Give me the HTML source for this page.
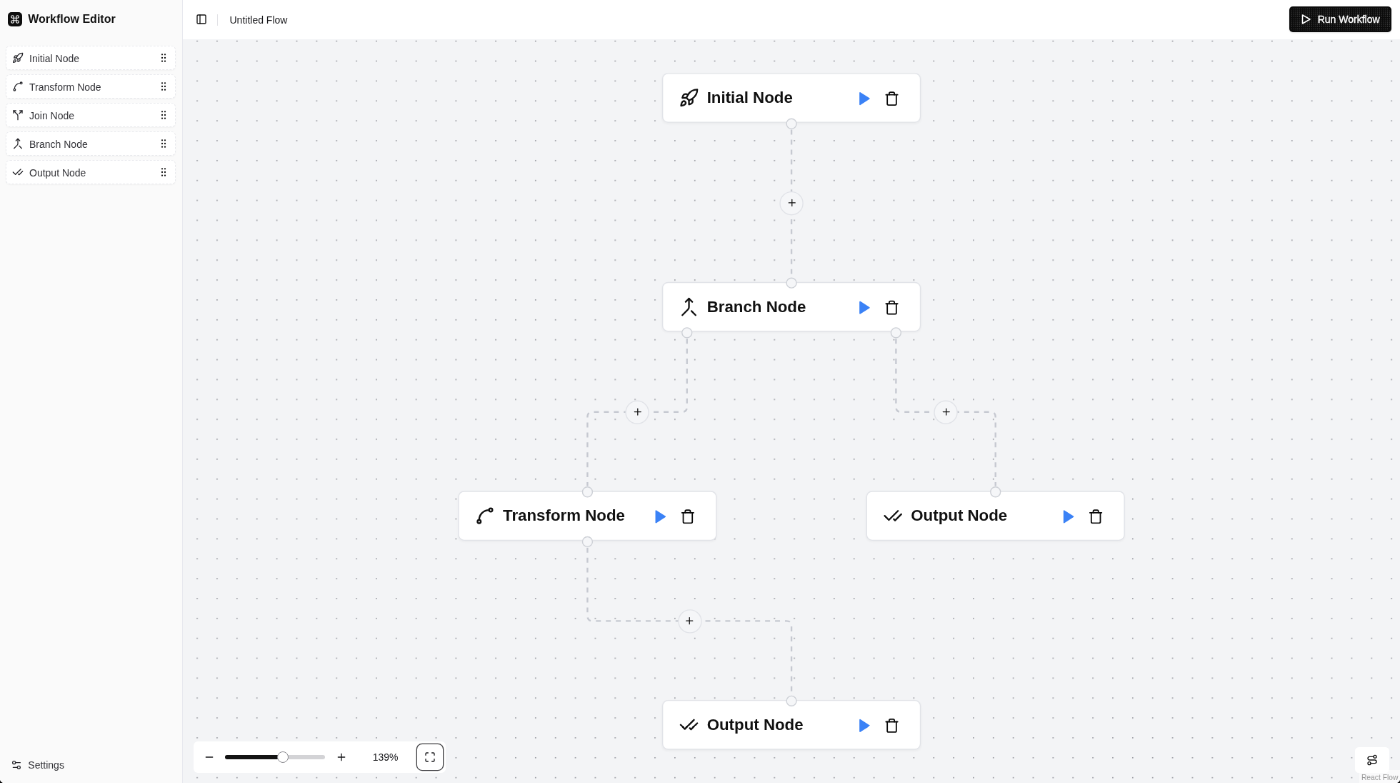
<!DOCTYPE html>
<html lang="en">
<head>
<meta charset="utf-8">
<title>Workflow Editor</title>
<style>
  html, body { margin: 0; padding: 0; }
  body { width: 1400px; height: 783px; overflow: hidden; background: #f3f4f6;
         font-family: "Liberation Sans", Arial, Helvetica, sans-serif; color: #0a0a0a; }
  * { box-sizing: border-box; }
  svg { display: block; }
  .ic { fill: none; stroke: currentColor; stroke-width: 2; stroke-linecap: round; stroke-linejoin: round; }

  /* whole app is authored at 1960x1097 and scaled by 5/7 */
  #app { position: absolute; left: 0; top: 0; width: 1960px; height: 1097px;
         transform: scale(0.7142857); transform-origin: 0 0; will-change: transform; }

  /* ---------- sidebar ---------- */
  #sidebar { position: absolute; left: 0; top: 0; width: 256px; height: 1097px;
             background: #fafafa; border-right: 1px solid #e7e8ee; color: #3f3f46; }
  #brand { position: absolute; left: 10.7px; top: 17px; height: 20px; display: flex; align-items: center; }
  #brand .logo { width: 20px; height: 20px; border-radius: 5px; background: #0d0d0d; color: #fff;
                 display: flex; align-items: center; justify-content: center; }
  #brand .name { margin-left: 8.6px; font-size: 16px; font-weight: 700; color: #111; line-height: 20px; position: relative; top: 0px; white-space: nowrap; }
  .sitem { position: absolute; left: 8px; width: 237.5px; height: 34px; background: #fff;
           border: 1px dashed #e8e9ed; border-radius: 6px; box-shadow: 0 1px 2px rgba(0,0,0,.04);
           display: flex; align-items: center; padding: 0 8px; font-size: 14px; color: #333338; white-space: nowrap; }
  .sitem span { position: relative; top: 0.8px; }
  .sitem .lead { width: 16px; height: 16px; margin-right: 8px; color: #26262b; }
  .sitem .grip { width: 16px; height: 16px; margin-left: auto; color: #111; }
  #settings { position: absolute; left: 14.8px; top: 1063px; height: 16px; display: flex; align-items: center;
              font-size: 14px; color: #333338; white-space: nowrap; }
  #settings svg { margin-right: 8.5px; color: #2a2a30; }

  /* ---------- header ---------- */
  #header { position: absolute; left: 256px; top: 0; width: 1704px; height: 55px; background: #fff; }
  #toggle { position: absolute; left: 18px; top: 19.4px; width: 16px; height: 16px; color: #111; }
  #sep { position: absolute; left: 48px; top: 19.5px; width: 1px; height: 16px; background: #e2e2e6; }
  #title { position: absolute; left: 65.5px; top: 17.6px; font-size: 14px; line-height: 20px; color: #18181b; white-space: nowrap; }
  #run { position: absolute; left: 1548.7px; top: 9.3px; width: 143px; height: 36px; border-radius: 5px;
         background-color: #0c0c0c; color: #fff; font-size: 14px; font-weight: 500;
         display: flex; align-items: center; padding: 0 16px; white-space: nowrap;
         box-shadow: 0 1px 2px rgba(0,0,0,.15); overflow: hidden; }
  #run::before { content: ""; position: absolute; left: 2px; top: 2px; right: 2px; bottom: 2px; border-radius: 5px;
         background-image: radial-gradient(rgba(255,255,255,.34) 0.6px, transparent 0.9px); background-size: 2.8px 2.8px; }
  #run svg { margin-left: -2px; margin-right: 8px; position: relative; }
  #run span { position: relative; -webkit-text-stroke: 0.35px #fff; }

  /* ---------- canvas ---------- */
  #canvas { position: absolute; left: 256px; top: 55px; width: 1704px; height: 1042px; background: #f3f4f6; overflow: hidden; }
  #bgdots { position: absolute; left: 0; top: 0; }
  #viewport { position: absolute; left: 0; top: 0; width: 0; height: 0;
              transform: translate(670.94px, 47.15px) scale(1.39335); transform-origin: 0 0; }
  #edges { position: absolute; left: 0; top: 0; overflow: visible; }
  #edges path { fill: none; stroke: #c6c9d1; stroke-width: 1.7; stroke-dasharray: 5 5; }
  .node { position: absolute; width: 260px; height: 50px; background: #fff; border: 1px solid #e1e3e8; border-radius: 6px;
          display: flex; align-items: center; padding: 0 16px; box-shadow: 0 1px 2px rgba(0,0,0,.03); }
  .node .nic { width: 20px; height: 20px; color: #111; margin-right: 8px; flex: none; }
  .node .ttl { font-size: 16px; font-weight: 700; color: #111; white-space: nowrap; line-height: 24px; }
  .node .acts { margin-left: auto; display: flex; gap: 4px; }
  .node .btn { width: 24px; height: 24px; display: flex; align-items: center; justify-content: center; }
  .node .btn svg { width: 15.6px; height: 15.6px; position: relative; top: 0.35px; }
  .node .play { color: #3b82f6; }
  .node .play svg { fill: currentColor; }
  .handle { position: absolute; width: 11px; height: 11px; border-radius: 50%; background: #f5f6f8; border: 1px solid #cdd0d6;
            transform: translate(-50%, -50%); }
  .plus { position: absolute; width: 24px; height: 24px; border-radius: 50%; background: #f5f6f8; border: 1px solid #e1e3e8;
          transform: translate(-50%, -50%); display: flex; align-items: center; justify-content: center; color: #111; }

  /* ---------- panels ---------- */
  #zoomctl { position: absolute; left: 15px; top: 983.3px; width: 353.2px; height: 44px; background: #fff; border-radius: 6px;
             display: flex; align-items: center; padding: 4px; gap: 4px; color: #18181b; }
  #zoomctl .b { width: 36px; height: 36px; display: flex; align-items: center; justify-content: center; flex: none; }
  #slider { position: relative; width: 140.6px; height: 16px; flex: none; }
  #slider .track { position: absolute; left: 0; top: 5px; width: 140px; height: 6px; border-radius: 3px; background: #d3d3d6; }
  #slider .range { position: absolute; left: 0; top: 5px; width: 82px; height: 6px; border-radius: 3px 0 0 3px; background: #131313; }
  #slider .thumb { position: absolute; left: 73.3px; top: 0; width: 16px; height: 16px; border-radius: 50%; background: #fff; border: 1px solid #8b8b90; }
  #pct { width: 80px; height: 36px; line-height: 36px; text-align: center; font-size: 14px; flex: none; }
  #fit { margin-left: 0.6px; width: 36px; height: 36px; border-radius: 7px; box-shadow: 0 0 0 1.3px #3a3a3d; display: flex; align-items: center; justify-content: center; flex: none; }
  #route { position: absolute; left: 1641px; top: 991px; width: 48px; height: 36px; border-radius: 5.5px; background: #fff;
           display: flex; align-items: center; justify-content: center; color: #111; }
  #attr { position: absolute; right: 0; bottom: 0; background: rgba(255,255,255,.55); padding: 4.6px 2.6px 3px 3px; font-size: 10.3px; line-height: 11px; color: #999; }
  .corner { position: absolute; top: 1091.2px; width: 5px; height: 5px; }
  #cbl { left: 0; background: radial-gradient(circle at 100% 0%, transparent 4.6px, #0a0a0a 5.3px); }
  #cbr { left: 1955px; background: radial-gradient(circle at 0% 0%, transparent 4.6px, #0a0a0a 5.3px); }
</style>
</head>
<body>
<div id="app">

  <div id="canvas">
    <svg id="bgdots" width="1704" height="1042">
      <defs>
        <pattern id="dots" x="19.2" y="1.75" width="27.867" height="27.867" patternUnits="userSpaceOnUse">
          <circle cx="0.9" cy="0.9" r="0.79" fill="#74767f"/>
        </pattern>
      </defs>
      <rect width="1704" height="1042" fill="url(#dots)"/>
    </svg>

    <div id="viewport">
      <svg id="edges" width="10" height="10">
        <path d="M130 57V205"/>
        <path d="M25 267V335.6Q25 340.6 20 340.6H-70Q-75 340.6 -75 345.6V415"/>
        <path d="M235 267V335.6Q235 340.6 240 340.6H330Q335 340.6 335 345.6V415"/>
        <path d="M-75 477V545.6Q-75 550.6 -70 550.6H125Q130 550.6 130 555.6V625"/>
      </svg>
      <div class="node" style="left:0px;top:0px">
        <svg class="ic nic" viewBox="0 0 24 24"><path d="M4.5 16.5c-1.5 1.26-2 5-2 5s3.74-.5 5-2c.71-.84.7-2.13-.09-2.91a2.18 2.18 0 0 0-2.91-.09z"/><path d="m12 15-3-3a22 22 0 0 1 2-3.950A12.880 12.880 0 0 1 22 2c0 2.720-.780 7.500-6 11a22.350 22.350 0 0 1-4 2z"/><path d="M9 12H4s.55-3.030 2-4c1.620-1.080 5 0 5 0"/><path d="M12 15v5s3.030-.55 4-2c1.080-1.620 0-5 0-5"/></svg>
        <div class="ttl">Initial Node</div>
        <div class="acts"><div class="btn play"><svg class="ic" width="16" height="16" viewBox="0 0 24 24"><polygon points="6 3 20 12 6 21 6 3"/></svg></div><div class="btn"><svg class="ic" width="16" height="16" viewBox="0 0 24 24"><path d="M3 6h18"/><path d="M19 6v14c0 1-1 2-2 2H7c-1 0-2-1-2-2V6"/><path d="M8 6V4c0-1 1-2 2-2h4c1 0 2 1 2 2v2"/></svg></div></div>
      </div>
      <div class="node" style="left:0px;top:210px">
        <svg class="ic nic" viewBox="0 0 24 24"><path d="m8 6 4-4 4 4"/><path d="M12 2v10.300a4 4 0 0 1-1.172 2.872L4 22"/><path d="m20 22-5-5"/></svg>
        <div class="ttl">Branch Node</div>
        <div class="acts"><div class="btn play"><svg class="ic" width="16" height="16" viewBox="0 0 24 24"><polygon points="6 3 20 12 6 21 6 3"/></svg></div><div class="btn"><svg class="ic" width="16" height="16" viewBox="0 0 24 24"><path d="M3 6h18"/><path d="M19 6v14c0 1-1 2-2 2H7c-1 0-2-1-2-2V6"/><path d="M8 6V4c0-1 1-2 2-2h4c1 0 2 1 2 2v2"/></svg></div></div>
      </div>
      <div class="node" style="left:-205px;top:420px">
        <svg class="ic nic" viewBox="0 0 24 24"><circle cx="19" cy="5" r="2"/><circle cx="5" cy="19" r="2"/><path d="M5 17A12 12 0 0 1 17 5"/></svg>
        <div class="ttl">Transform Node</div>
        <div class="acts"><div class="btn play"><svg class="ic" width="16" height="16" viewBox="0 0 24 24"><polygon points="6 3 20 12 6 21 6 3"/></svg></div><div class="btn"><svg class="ic" width="16" height="16" viewBox="0 0 24 24"><path d="M3 6h18"/><path d="M19 6v14c0 1-1 2-2 2H7c-1 0-2-1-2-2V6"/><path d="M8 6V4c0-1 1-2 2-2h4c1 0 2 1 2 2v2"/></svg></div></div>
      </div>
      <div class="node" style="left:205px;top:420px">
        <svg class="ic nic" viewBox="0 0 24 24"><path d="M18 6 7 17l-5-5"/><path d="m22 10-7.500 7.500L13 16"/></svg>
        <div class="ttl">Output Node</div>
        <div class="acts"><div class="btn play"><svg class="ic" width="16" height="16" viewBox="0 0 24 24"><polygon points="6 3 20 12 6 21 6 3"/></svg></div><div class="btn"><svg class="ic" width="16" height="16" viewBox="0 0 24 24"><path d="M3 6h18"/><path d="M19 6v14c0 1-1 2-2 2H7c-1 0-2-1-2-2V6"/><path d="M8 6V4c0-1 1-2 2-2h4c1 0 2 1 2 2v2"/></svg></div></div>
      </div>
      <div class="node" style="left:0px;top:630px">
        <svg class="ic nic" viewBox="0 0 24 24"><path d="M18 6 7 17l-5-5"/><path d="m22 10-7.500 7.500L13 16"/></svg>
        <div class="ttl">Output Node</div>
        <div class="acts"><div class="btn play"><svg class="ic" width="16" height="16" viewBox="0 0 24 24"><polygon points="6 3 20 12 6 21 6 3"/></svg></div><div class="btn"><svg class="ic" width="16" height="16" viewBox="0 0 24 24"><path d="M3 6h18"/><path d="M19 6v14c0 1-1 2-2 2H7c-1 0-2-1-2-2V6"/><path d="M8 6V4c0-1 1-2 2-2h4c1 0 2 1 2 2v2"/></svg></div></div>
      </div>
      <div class="handle" style="left:130px;top:50.7px"></div>
      <div class="handle" style="left:130px;top:210.7px"></div>
      <div class="handle" style="left:25px;top:260.7px"></div>
      <div class="handle" style="left:235px;top:260.7px"></div>
      <div class="handle" style="left:-75px;top:420.7px"></div>
      <div class="handle" style="left:-75px;top:470.7px"></div>
      <div class="handle" style="left:335px;top:420.7px"></div>
      <div class="handle" style="left:130px;top:630.7px"></div>
      <div class="plus" style="left:130px;top:130.6px"><svg class="ic" width="11" height="11" viewBox="0 0 24 24"><path d="M5 12h14"/><path d="M12 5v14"/></svg></div>
      <div class="plus" style="left:-25px;top:340.6px"><svg class="ic" width="11" height="11" viewBox="0 0 24 24"><path d="M5 12h14"/><path d="M12 5v14"/></svg></div>
      <div class="plus" style="left:285px;top:340.6px"><svg class="ic" width="11" height="11" viewBox="0 0 24 24"><path d="M5 12h14"/><path d="M12 5v14"/></svg></div>
      <div class="plus" style="left:27.5px;top:550.6px"><svg class="ic" width="11" height="11" viewBox="0 0 24 24"><path d="M5 12h14"/><path d="M12 5v14"/></svg></div>
    </div>
    <div id="zoomctl">
      <div class="b"><svg class="ic" width="16" height="16" viewBox="0 0 24 24"><path d="M5 12h14"/></svg></div>
      <div id="slider"><div class="track"></div><div class="range"></div><div class="thumb"></div></div>
      <div class="b"><svg class="ic" width="16" height="16" viewBox="0 0 24 24"><path d="M5 12h14"/><path d="M12 5v14"/></svg></div>
      <div id="pct">139%</div>
      <div id="fit"><svg class="ic" width="16" height="16" viewBox="0 0 24 24"><path d="M8 3H5a2 2 0 0 0-2 2v3"/><path d="M21 8V5a2 2 0 0 0-2-2h-3"/><path d="M3 16v3a2 2 0 0 0 2 2h3"/><path d="M16 21h3a2 2 0 0 0 2-2v-3"/></svg></div>
    </div>
    <div id="route"><svg class="ic" width="16" height="16" viewBox="0 0 24 24"><circle cx="6" cy="19" r="3"/><path d="M9 19h8.500a3.500 3.500 0 0 0 0-7h-11a3.500 3.500 0 0 1 0-7H15"/><circle cx="18" cy="5" r="3"/></svg></div>
    <div id="attr">React Flow</div>
  </div>

  <div id="header">
    <svg id="toggle" class="ic" viewBox="0 0 24 24"><rect width="18" height="18" x="3" y="3" rx="2"/><path d="M9 3v18"/></svg>
    <div id="sep"></div>
    <div id="title">Untitled Flow</div>
    <div id="run">
      <svg class="ic" width="18" height="18" viewBox="0 0 24 24"><polygon points="6 4 20 12 6 20 6 4"/></svg>
      <span>Run Workflow</span>
    </div>
  </div>
  <div id="sidebar">
    <div id="brand">
      <div class="logo"><svg class="ic" width="14" height="14" viewBox="0 0 24 24"><path d="M15 6v12a3 3 0 1 0 3-3H6a3 3 0 1 0 3 3V6a3 3 0 1 0-3 3h12a3 3 0 1 0-3-3"/></svg></div>
      <div class="name">Workflow Editor</div>
    </div>

    <div class="sitem" style="top:64px">
      <svg class="ic lead" viewBox="0 0 24 24"><path d="M4.5 16.5c-1.5 1.26-2 5-2 5s3.74-.5 5-2c.71-.84.7-2.13-.09-2.91a2.18 2.18 0 0 0-2.91-.09z"/><path d="m12 15-3-3a22 22 0 0 1 2-3.950A12.880 12.880 0 0 1 22 2c0 2.720-.780 7.500-6 11a22.350 22.350 0 0 1-4 2z"/><path d="M9 12H4s.55-3.030 2-4c1.620-1.080 5 0 5 0"/><path d="M12 15v5s3.030-.55 4-2c1.080-1.620 0-5 0-5"/></svg>
      <span>Initial Node</span>
      <svg class="grip" viewBox="0 0 24 24" fill="currentColor"><circle cx="9" cy="5" r="1.7"/><circle cx="9" cy="12" r="1.7"/><circle cx="9" cy="19" r="1.7"/><circle cx="15" cy="5" r="1.7"/><circle cx="15" cy="12" r="1.7"/><circle cx="15" cy="19" r="1.7"/></svg>
    </div>
    <div class="sitem" style="top:104px">
      <svg class="ic lead" viewBox="0 0 24 24"><circle cx="19" cy="5" r="2"/><circle cx="5" cy="19" r="2"/><path d="M5 17A12 12 0 0 1 17 5"/></svg>
      <span>Transform Node</span>
      <svg class="grip" viewBox="0 0 24 24" fill="currentColor"><circle cx="9" cy="5" r="1.7"/><circle cx="9" cy="12" r="1.7"/><circle cx="9" cy="19" r="1.7"/><circle cx="15" cy="5" r="1.7"/><circle cx="15" cy="12" r="1.7"/><circle cx="15" cy="19" r="1.7"/></svg>
    </div>
    <div class="sitem" style="top:144px">
      <svg class="ic lead" viewBox="0 0 24 24"><path d="M16 3h5v5"/><path d="M8 3H3v5"/><path d="M12 22v-8.300a4 4 0 0 0-1.172-2.872L3 3"/><path d="m15 9 6-6"/></svg>
      <span>Join Node</span>
      <svg class="grip" viewBox="0 0 24 24" fill="currentColor"><circle cx="9" cy="5" r="1.7"/><circle cx="9" cy="12" r="1.7"/><circle cx="9" cy="19" r="1.7"/><circle cx="15" cy="5" r="1.7"/><circle cx="15" cy="12" r="1.7"/><circle cx="15" cy="19" r="1.7"/></svg>
    </div>
    <div class="sitem" style="top:184px">
      <svg class="ic lead" viewBox="0 0 24 24"><path d="m8 6 4-4 4 4"/><path d="M12 2v10.300a4 4 0 0 1-1.172 2.872L4 22"/><path d="m20 22-5-5"/></svg>
      <span>Branch Node</span>
      <svg class="grip" viewBox="0 0 24 24" fill="currentColor"><circle cx="9" cy="5" r="1.7"/><circle cx="9" cy="12" r="1.7"/><circle cx="9" cy="19" r="1.7"/><circle cx="15" cy="5" r="1.7"/><circle cx="15" cy="12" r="1.7"/><circle cx="15" cy="19" r="1.7"/></svg>
    </div>
    <div class="sitem" style="top:224px">
      <svg class="ic lead" viewBox="0 0 24 24"><path d="M18 6 7 17l-5-5"/><path d="m22 10-7.500 7.500L13 16"/></svg>
      <span>Output Node</span>
      <svg class="grip" viewBox="0 0 24 24" fill="currentColor"><circle cx="9" cy="5" r="1.7"/><circle cx="9" cy="12" r="1.7"/><circle cx="9" cy="19" r="1.7"/><circle cx="15" cy="5" r="1.7"/><circle cx="15" cy="12" r="1.7"/><circle cx="15" cy="19" r="1.7"/></svg>
    </div>

    <div id="settings">
      <svg class="ic" width="16" height="16" viewBox="0 0 24 24"><path d="M20 7h-9"/><path d="M14 17H5"/><circle cx="17" cy="17" r="3"/><circle cx="7" cy="7" r="3"/></svg>
      <span>Settings</span>
    </div>
  </div>

  <div class="corner" id="cbl"></div>
  <div class="corner" id="cbr"></div>
</div>
</body>
</html>
